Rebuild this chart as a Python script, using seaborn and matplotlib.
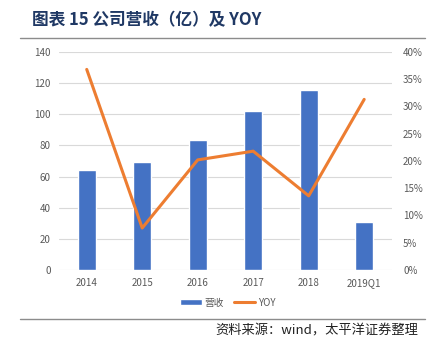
import matplotlib
matplotlib.use("Agg")
import matplotlib.pyplot as plt
import seaborn as sns
import pandas as pd
from matplotlib.patches import Patch
from matplotlib.lines import Line2D
from matplotlib.ticker import FuncFormatter, MultipleLocator

categories = ["2014", "2015", "2016", "2017", "2018", "2019Q1"]
revenue = [64.2, 69.4, 83.5, 101.9, 115.6, 30.8]
yoy = [36.8, 7.7, 20.2, 21.8, 13.6, 31.3]

sns.set_theme(style="white")
plt.rcParams['font.family'] = ['Noto Sans CJK SC', 'DejaVu Sans']

df = pd.DataFrame({"year": categories, "rev": revenue, "yoy": yoy})

fig = plt.figure(figsize=(4.35, 3.56), dpi=100)
ax = fig.add_axes([0.1356, 0.2416, 0.7654, 0.6124])

sns.barplot(data=df, x="year", y="rev", ax=ax, color="#4472C4", width=0.33,
            saturation=1, zorder=2)
ax.set_ylim(0, 140)
ax.yaxis.set_major_locator(MultipleLocator(20))
ax.grid(axis="y", color="#D9D9D9", linewidth=0.8, zorder=0)
ax.set_axisbelow(True)
ax.set_xlabel("")
ax.set_ylabel("")
for s in ax.spines.values():
    s.set_visible(False)
ax.tick_params(axis="both", length=0, labelsize=7, labelcolor="#595959", pad=6)

ax2 = ax.twinx()
sns.lineplot(data=df, x="year", y="yoy", ax=ax2, color="#ED7D31", linewidth=2.2,
             sort=False)
ax2.set_ylim(0, 40)
ax2.yaxis.set_major_locator(MultipleLocator(5))
ax2.yaxis.set_major_formatter(FuncFormatter(lambda v, p: f"{v:.0f}%"))
ax2.set_ylabel("")
ax2.set_xlabel("")
ax2.grid(False)
for s in ax2.spines.values():
    s.set_visible(False)
ax2.tick_params(axis="both", length=0, labelsize=7, labelcolor="#595959", pad=8)
ax.set_xlim(-0.5, 5.5)

handles = [Patch(facecolor="#4472C4", label="营收"),
           Line2D([0], [0], color="#ED7D31", linewidth=2.2, label="YOY")]
fig.legend(handles=handles, loc="center", bbox_to_anchor=(0.524, 0.150), ncol=2,
           frameon=False, fontsize=7, labelcolor="#595959", handlelength=2.2,
           handleheight=0.6, columnspacing=1.0, handletextpad=0.3)

fig.text(32/435, 1 - 20/356, "图表 15 公司营收（亿）及 YOY", fontsize=12,
         fontweight="bold", color="#1F3864", ha="left", va="center")
fig.add_artist(Line2D([20/435, 425/435], [1 - 38/356, 1 - 38/356], color="#8C8C8C", linewidth=1.0))
fig.add_artist(Line2D([20/435, 425/435], [1 - 319/356, 1 - 319/356], color="#8C8C8C", linewidth=1.0))
fig.text(418/435, 1 - 331/356, "资料来源：wind，太平洋证券整理", fontsize=9.5,
         color="#222222", ha="right", va="center", style="italic")

fig.savefig("out.png", dpi=100)
